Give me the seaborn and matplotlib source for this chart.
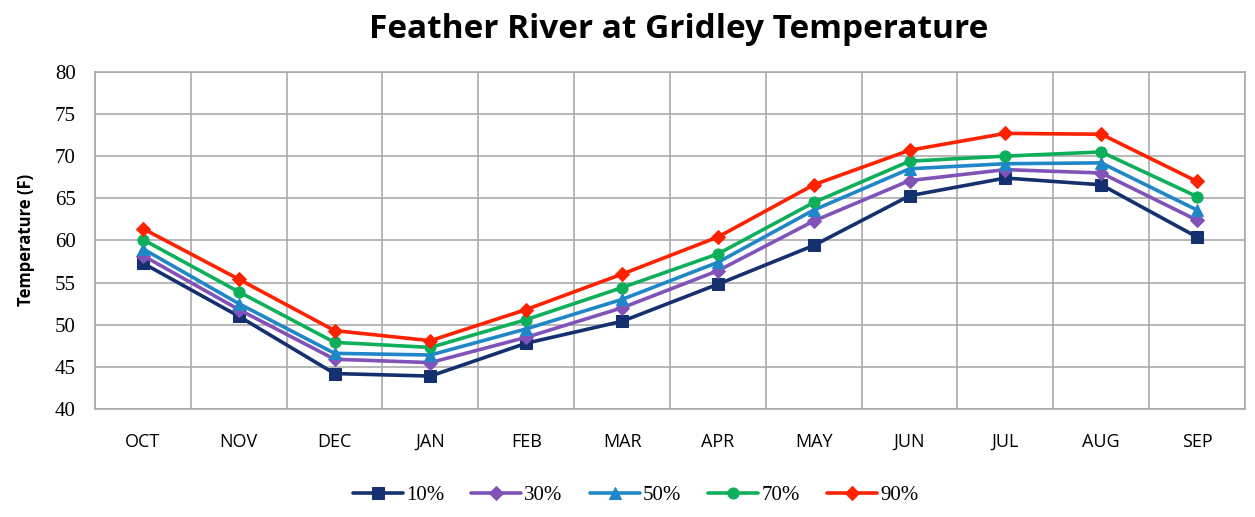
import numpy as np
import pandas as pd
import matplotlib
matplotlib.use("Agg")
import matplotlib.pyplot as plt
from matplotlib.ticker import MultipleLocator, FixedLocator, NullFormatter
import seaborn as sns

months = ['OCT', 'NOV', 'DEC', 'JAN', 'FEB', 'MAR', 'APR', 'MAY', 'JUN', 'JUL', 'AUG', 'SEP']
p10 = [57.3, 51.0, 44.2, 43.9, 47.8, 50.4, 54.8, 59.4, 65.3, 67.4, 66.6, 60.4]
p30 = [58.2, 51.8, 45.9, 45.5, 48.5, 52.0, 56.4, 62.3, 67.1, 68.4, 68.0, 62.4]
p50 = [59.0, 52.5, 46.6, 46.4, 49.5, 53.0, 57.4, 63.6, 68.5, 69.1, 69.2, 63.6]
p70 = [60.1, 53.9, 47.9, 47.3, 50.6, 54.4, 58.4, 64.5, 69.4, 70.0, 70.5, 65.2]
p90 = [61.4, 55.4, 49.3, 48.1, 51.8, 56.0, 60.4, 66.6, 70.7, 72.7, 72.6, 67.0]

series = {'10%': p10, '30%': p30, '50%': p50, '70%': p70, '90%': p90}
colors = {'10%': '#14306e', '30%': '#8152b8', '50%': '#1f86c8', '70%': '#0eaf5a', '90%': '#ff2200'}
markers = {'10%': 's', '30%': 'D', '50%': '^', '70%': 'o', '90%': 'D'}

df = pd.DataFrame(series)
df['month'] = months
df['x'] = np.arange(len(months))
long = df.melt(id_vars=['month', 'x'], var_name='pct', value_name='temp')

sns.set_style('white')
plt.rcParams['font.family'] = ['Open Sans', 'DejaVu Sans']
plt.rcParams['text.color'] = 'black'
plt.rcParams['xtick.color'] = 'black'
plt.rcParams['ytick.color'] = 'black'
plt.rcParams['axes.labelcolor'] = 'black'

fig = plt.figure(figsize=(12.55, 5.17), dpi=100)
ax = fig.add_axes([0.0757, 0.209, 0.9163, 0.652])

for name in series:
    sub = long[long['pct'] == name]
    sns.lineplot(data=sub, x='x', y='temp', ax=ax, color=colors[name],
                 marker=markers[name], markersize=8 if markers[name] != 'D' else 7,
                 markeredgecolor=colors[name], linewidth=2.6, label=name)

ax.set_xlim(-0.5, len(months) - 0.5)
ax.set_ylim(40, 80)
ax.yaxis.set_major_locator(MultipleLocator(5))
ax.set_xticks(np.arange(len(months)))
ax.set_xticklabels(months, fontsize=13)
ax.xaxis.set_minor_locator(FixedLocator(np.arange(-0.5, len(months), 1.0)))
ax.xaxis.set_minor_formatter(NullFormatter())
ax.tick_params(axis='x', which='major', length=0, pad=17)
ax.tick_params(axis='x', which='minor', length=6, color='#999999', direction='out')
ax.tick_params(axis='y', length=6, color='#999999', direction='out', labelsize=15, pad=8)
for lab in ax.get_yticklabels():
    lab.set_family(['Liberation Serif', 'DejaVu Serif'])

ax.grid(True, axis='y', which='major', color='#aaaaaa', linewidth=1.2)
ax.grid(True, axis='x', which='minor', color='#aaaaaa', linewidth=1.2)
ax.grid(False, axis='x', which='major')
for s in ax.spines.values():
    s.set_color('#aaaaaa')
    s.set_linewidth(1.2)

ax.set_xlabel('')
ax.set_ylabel('Temperature (F)', fontsize=12, fontweight='bold', labelpad=14)
fig.suptitle('Feather River at Gridley Temperature', fontsize=24, fontweight='bold',
             x=0.541, y=0.975)

ax.legend(loc='upper center', bbox_to_anchor=(0.47, -0.172), ncol=5, frameon=False,
          handlelength=2.4, handletextpad=0.15, columnspacing=1.3,
          prop={'family': ['Liberation Serif', 'DejaVu Serif'], 'size': 15})

fig.savefig('out.png', dpi=100)
